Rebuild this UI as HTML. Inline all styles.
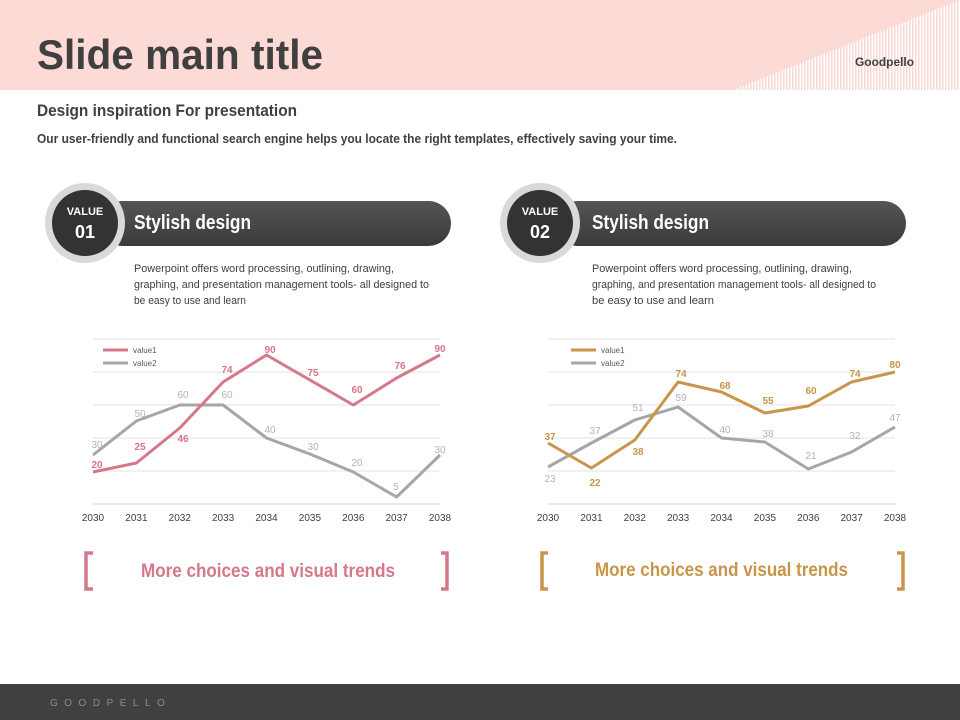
<!DOCTYPE html>
<html><head><meta charset="utf-8"><style>
body{margin:0;width:960px;height:720px;overflow:hidden;background:#fff;font-family:"Liberation Sans",sans-serif}
svg{display:block}
</style></head><body>
<svg width="960" height="720" viewBox="0 0 960 720" xmlns="http://www.w3.org/2000/svg">
<defs>
<pattern id="st" width="3" height="4" patternUnits="userSpaceOnUse"><rect width="3" height="4" fill="#fff"/><rect width="1.5" height="4" fill="#f8d8d3"/></pattern>
<linearGradient id="pill" x1="0" y1="0" x2="0" y2="1"><stop offset="0" stop-color="#555"/><stop offset="1" stop-color="#3a3a3a"/></linearGradient>
</defs>
<rect width="960" height="90" fill="#fcdad5"/>
<polygon points="733,90 960,0 960,90" fill="url(#st)"/>
<text x="37" y="69" font-size="42" font-weight="bold" fill="#404040" textLength="286" lengthAdjust="spacingAndGlyphs">Slide main title</text>
<text x="855" y="66" font-size="12" font-weight="bold" fill="#404040" textLength="59" lengthAdjust="spacingAndGlyphs">Goodpello</text>
<text x="37" y="116" font-size="17" font-weight="bold" fill="#404040" textLength="260" lengthAdjust="spacingAndGlyphs">Design inspiration For presentation</text>
<text x="37" y="143" font-size="13" font-weight="bold" fill="#404040" textLength="640" lengthAdjust="spacingAndGlyphs">Our user-friendly and functional search engine helps you locate the right templates, effectively saving your time.</text>

<!-- badges -->
<g>
<rect x="100" y="201" width="351" height="45" rx="22.5" fill="url(#pill)"/>
<circle cx="85" cy="223" r="40" fill="#d9d9d9"/>
<circle cx="85" cy="223" r="33" fill="#333"/>
<text x="85" y="215" font-size="11" font-weight="bold" fill="#fff" text-anchor="middle">VALUE</text>
<text x="85" y="238" font-size="18" font-weight="bold" fill="#fff" text-anchor="middle">01</text>
<text x="134" y="229" font-size="20" font-weight="bold" fill="#fff" textLength="117" lengthAdjust="spacingAndGlyphs">Stylish design</text>
<text font-size="11" fill="#404040"><tspan x="134" y="272" textLength="260" lengthAdjust="spacingAndGlyphs">Powerpoint offers word processing, outlining, drawing,</tspan><tspan x="134" y="288" textLength="295" lengthAdjust="spacingAndGlyphs">graphing, and presentation management tools- all designed to</tspan><tspan x="134" y="304" textLength="112" lengthAdjust="spacingAndGlyphs">be easy to use and learn</tspan></text>
</g>
<g>
<rect x="555" y="201" width="351" height="45" rx="22.5" fill="url(#pill)"/>
<circle cx="540" cy="223" r="40" fill="#d9d9d9"/>
<circle cx="540" cy="223" r="33" fill="#333"/>
<text x="540" y="215" font-size="11" font-weight="bold" fill="#fff" text-anchor="middle">VALUE</text>
<text x="540" y="238" font-size="18" font-weight="bold" fill="#fff" text-anchor="middle">02</text>
<text x="592" y="229" font-size="20" font-weight="bold" fill="#fff" textLength="117" lengthAdjust="spacingAndGlyphs">Stylish design</text>
<text font-size="11" fill="#404040"><tspan x="592" y="272" textLength="260" lengthAdjust="spacingAndGlyphs">Powerpoint offers word processing, outlining, drawing,</tspan><tspan x="592" y="288" textLength="284" lengthAdjust="spacingAndGlyphs">graphing, and presentation management tools- all designed to</tspan><tspan x="592" y="304" textLength="122" lengthAdjust="spacingAndGlyphs">be easy to use and learn</tspan></text>
</g>

<!-- left chart -->
<g stroke="#e3e3e3" stroke-width="1">
<line x1="93" y1="339" x2="440" y2="339"/><line x1="93" y1="372" x2="440" y2="372"/><line x1="93" y1="405" x2="440" y2="405"/><line x1="93" y1="438" x2="440" y2="438"/><line x1="93" y1="471" x2="440" y2="471"/><line x1="93" y1="504" x2="440" y2="504" stroke="#d0d0d0"/>
<line x1="548" y1="339" x2="895" y2="339"/><line x1="548" y1="372" x2="895" y2="372"/><line x1="548" y1="405" x2="895" y2="405"/><line x1="548" y1="438" x2="895" y2="438"/><line x1="548" y1="471" x2="895" y2="471"/><line x1="548" y1="504" x2="895" y2="504" stroke="#d0d0d0"/>
</g>
<g font-size="10" fill="#404040" text-anchor="middle">
<text x="93" y="521">2030</text><text x="136.4" y="521">2031</text><text x="179.8" y="521">2032</text><text x="223.1" y="521">2033</text><text x="266.5" y="521">2034</text><text x="309.9" y="521">2035</text><text x="353.3" y="521">2036</text><text x="396.6" y="521">2037</text><text x="440" y="521">2038</text>
<text x="548" y="521">2030</text><text x="591.4" y="521">2031</text><text x="634.8" y="521">2032</text><text x="678.1" y="521">2033</text><text x="721.5" y="521">2034</text><text x="764.9" y="521">2035</text><text x="808.3" y="521">2036</text><text x="851.6" y="521">2037</text><text x="895" y="521">2038</text>
</g>
<g fill="none" stroke-width="3" stroke-linejoin="round">
<polyline stroke="#a6a6a6" points="93,455 136.4,421 179.8,405 223.1,405 266.5,438 309.9,454 353.3,472 396.6,497 440,455"/>
<polyline stroke="#d4788a" points="93,472 136.4,463 179.8,428 223.1,382 266.5,355 309.9,380 353.3,405 396.6,378 440,355"/>
<polyline stroke="#a6a6a6" points="548,467 591.4,443 634.8,420 678.1,407 721.5,438 764.9,442 808.3,469 851.6,452 895,427"/>
<polyline stroke="#c9954a" points="548,443 591.4,468 634.8,440 678.1,382 721.5,392 764.9,413 808.3,406 851.6,382 895,372"/>
<line x1="103" y1="350" x2="128" y2="350" stroke="#d4788a"/>
<line x1="103" y1="363" x2="128" y2="363" stroke="#a6a6a6"/>
<line x1="571" y1="350" x2="596" y2="350" stroke="#c9954a"/>
<line x1="571" y1="363" x2="596" y2="363" stroke="#a6a6a6"/>
</g>
<g font-size="8" fill="#595959"><text x="133" y="353">value1</text><text x="133" y="366">value2</text><text x="601" y="353">value1</text><text x="601" y="366">value2</text></g>
<g font-size="10" font-weight="bold" fill="#d4788a" text-anchor="middle">
<text x="97" y="468">20</text><text x="140" y="450">25</text><text x="183" y="442">46</text><text x="227" y="373">74</text><text x="270" y="353">90</text><text x="313" y="376">75</text><text x="357" y="393">60</text><text x="400" y="369">76</text><text x="440" y="352">90</text>
</g>
<g font-size="10" fill="#b3b3b3" text-anchor="middle">
<text x="97" y="448">30</text><text x="140" y="417">50</text><text x="183" y="398">60</text><text x="227" y="398">60</text><text x="270" y="433">40</text><text x="313" y="450">30</text><text x="357" y="466">20</text><text x="396" y="490">5</text><text x="440" y="453">30</text>
<text x="550" y="482">23</text><text x="595" y="434">37</text><text x="638" y="411">51</text><text x="681" y="401">59</text><text x="725" y="433">40</text><text x="768" y="437">38</text><text x="811" y="459">21</text><text x="855" y="439">32</text><text x="895" y="421">47</text>
</g>
<g font-size="10" font-weight="bold" fill="#c9954a" text-anchor="middle">
<text x="550" y="440">37</text><text x="595" y="486">22</text><text x="638" y="455">38</text><text x="681" y="377">74</text><text x="725" y="389">68</text><text x="768" y="404">55</text><text x="811" y="394">60</text><text x="855" y="377">74</text><text x="895" y="368">80</text>
</g>

<!-- brackets -->
<g fill="none" stroke-width="3.5">
<path d="M93,553 H86 V589 H93" stroke="#d4788a"/><path d="M441,553 H447 V589 H441" stroke="#d4788a"/>
<path d="M548,553 H542 V589 H548" stroke="#c9954a"/><path d="M897,553 H903 V589 H897" stroke="#c9954a"/>
</g>
<text x="141" y="577" font-size="19" font-weight="bold" fill="#d4788a" textLength="254" lengthAdjust="spacingAndGlyphs">More choices and visual trends</text>
<text x="595" y="576" font-size="19" font-weight="bold" fill="#c9954a" textLength="253" lengthAdjust="spacingAndGlyphs">More choices and visual trends</text>

<rect x="0" y="684" width="960" height="36" fill="#404040"/>
<text x="50" y="706" font-size="10" fill="#8c8c8c" letter-spacing="6.5">GOODPELLO</text>
</svg>
</body></html>
